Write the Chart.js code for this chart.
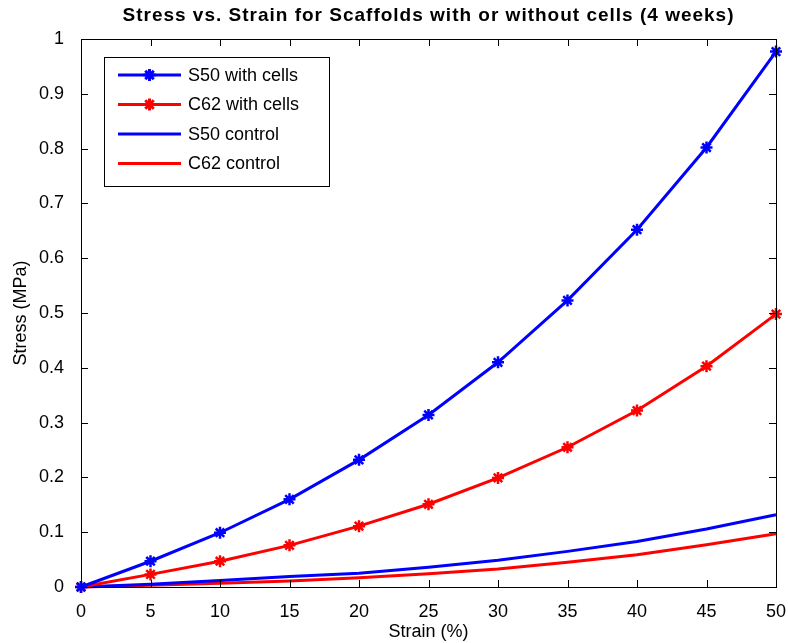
<!DOCTYPE html>
<html>
<head>
<meta charset="utf-8">
<script src="https://cdn.jsdelivr.net/npm/chart.js@4.4.1/dist/chart.umd.min.js"></script>
<style>
  html, body { margin: 0; padding: 0; background: #fff; }
  #wrap { width: 788px; height: 643px; }
</style>
</head>
<body>
<div id="wrap"><canvas id="c" width="788" height="643"></canvas></div>
<script>
const strain = [0, 5, 10, 15, 20, 25, 30, 35, 40, 45, 50];
const s50Cells = [0, 0.047, 0.099, 0.16, 0.232, 0.314, 0.41, 0.523, 0.652, 0.802, 0.977];
const c62Cells = [0, 0.023, 0.047, 0.076, 0.111, 0.151, 0.199, 0.255, 0.322, 0.403, 0.498];
const s50Control = [0, 0.005, 0.012, 0.019, 0.025, 0.036, 0.049, 0.065, 0.083, 0.106, 0.132];
const c62Control = [0, 0.003, 0.007, 0.011, 0.017, 0.024, 0.033, 0.045, 0.059, 0.077, 0.097];

const TITLE = "Stress vs. Strain for Scaffolds with or without cells (4 weeks)";
const FONT = "'Liberation Sans', Arial, Helvetica, sans-serif";

function pts(ys) {
  return strain.map((x, i) => ({ x, y: ys[i] }));
}

// MATLAB-like frame: box around the plot area with inward ticks on all four sides,
// plus the bold title centred over the axes
const boxTicks = {
  id: "boxTicks",
  afterDraw(chart) {
    const { ctx, chartArea: a, scales } = chart;
    ctx.save();
    ctx.strokeStyle = "#000";
    ctx.lineWidth = 1;
    const len = 7;
    ctx.beginPath();
    scales.x.ticks.forEach((t) => {
      const px = Math.round(scales.x.getPixelForValue(t.value)) + 0.5;
      ctx.moveTo(px, a.bottom); ctx.lineTo(px, a.bottom - len);
      ctx.moveTo(px, a.top); ctx.lineTo(px, a.top + len);
    });
    scales.y.ticks.forEach((t) => {
      const py = Math.round(scales.y.getPixelForValue(t.value)) + 0.5;
      ctx.moveTo(a.left, py); ctx.lineTo(a.left + len, py);
      ctx.moveTo(a.right, py); ctx.lineTo(a.right - len, py);
    });
    ctx.stroke();
    ctx.strokeRect(Math.round(a.left) + 0.5, Math.round(a.top) + 0.5,
      Math.round(a.right - a.left), Math.round(a.bottom - a.top));

    ctx.fillStyle = "#000";
    ctx.font = "bold 19px " + FONT;
    ctx.letterSpacing = "1px";
    ctx.textAlign = "center";
    ctx.textBaseline = "alphabetic";
    ctx.fillText(TITLE, (a.left + a.right) / 2, 21);
    ctx.restore();
  },
};

// boxed legend in the upper-left corner of the axes
const boxLegend = {
  id: "boxLegend",
  afterDraw(chart) {
    const { ctx, chartArea: a } = chart;
    const x0 = a.left + 23, y0 = a.top + 18, w = 225, h = 129;
    ctx.save();
    ctx.fillStyle = "#fff";
    ctx.fillRect(x0, y0, w, h);
    ctx.strokeStyle = "#000";
    ctx.lineWidth = 1;
    ctx.strokeRect(x0 + 0.5, y0 + 0.5, w, h);
    ctx.font = "18px " + FONT;
    ctx.textBaseline = "middle";
    chart.data.datasets.forEach((ds, i) => {
      const y = y0 + 18 + i * 29.5;
      ctx.strokeStyle = ds.borderColor;
      ctx.lineWidth = 3;
      ctx.beginPath();
      ctx.moveTo(x0 + 14, y);
      ctx.lineTo(x0 + 77, y);
      ctx.stroke();
      if (ds.pointRadius > 0) {
        ctx.fillStyle = ds.borderColor;
        Chart.helpers.drawPoint(ctx, {
          pointStyle: "star", radius: 6, borderWidth: 2.5, rotation: 0,
        }, x0 + 45.5, y);
      }
      ctx.fillStyle = "#000";
      ctx.fillText(ds.label, x0 + 84, y + 1);
    });
    ctx.restore();
  },
};

function line(label, color, ys, markers) {
  return {
    label,
    data: pts(ys),
    borderColor: color,
    backgroundColor: color,
    borderWidth: 3,
    pointStyle: "star",
    pointRadius: markers ? 6 : 0,
    pointBorderWidth: 2.5,
    pointHoverRadius: markers ? 6 : 0,
    tension: 0,
  };
}

new Chart(document.getElementById("c"), {
  type: "line",
  data: {
    datasets: [
      line("S50 with cells", "#0000ff", s50Cells, true),
      line("C62 with cells", "#ff0000", c62Cells, true),
      line("S50 control", "#0000ff", s50Control, false),
      line("C62 control", "#ff0000", c62Control, false),
    ],
  },
  options: {
    responsive: false,
    animation: false,
    clip: false,
    layout: { padding: { top: 39, right: 12, left: 0, bottom: 0 } },
    plugins: {
      legend: { display: false },
      tooltip: { enabled: false },
      title: { display: false },
    },
    scales: {
      x: {
        type: "linear",
        min: 0,
        max: 50,
        grid: { display: false },
        border: { display: false },
        ticks: {
          stepSize: 5,
          color: "#000",
          padding: 6,
          maxRotation: 0,
          font: { family: FONT, size: 18 },
        },
        title: {
          display: true,
          text: "Strain (%)",
          color: "#000",
          font: { family: FONT, size: 18 },
          padding: { top: 0, bottom: 0 },
        },
        afterFit(scale) {
          scale.height = 56;
          scale.paddingLeft = 0;
          scale.paddingRight = 0;
        },
      },
      y: {
        min: 0,
        max: 1,
        grid: { display: false },
        border: { display: false },
        ticks: {
          stepSize: 0.1,
          color: "#000",
          padding: 9,
          font: { family: FONT, size: 18 },
          callback: (v) => String(Math.round(v * 10) / 10),
        },
        title: {
          display: true,
          text: "Stress (MPa)",
          color: "#000",
          font: { family: FONT, size: 18 },
          padding: { top: 10, bottom: 0 },
        },
        afterFit(scale) {
          scale.width = 81;
          scale.paddingTop = 0;
          scale.paddingBottom = 0;
        },
      },
    },
  },
  plugins: [boxTicks, boxLegend],
});
</script>
</body>
</html>
